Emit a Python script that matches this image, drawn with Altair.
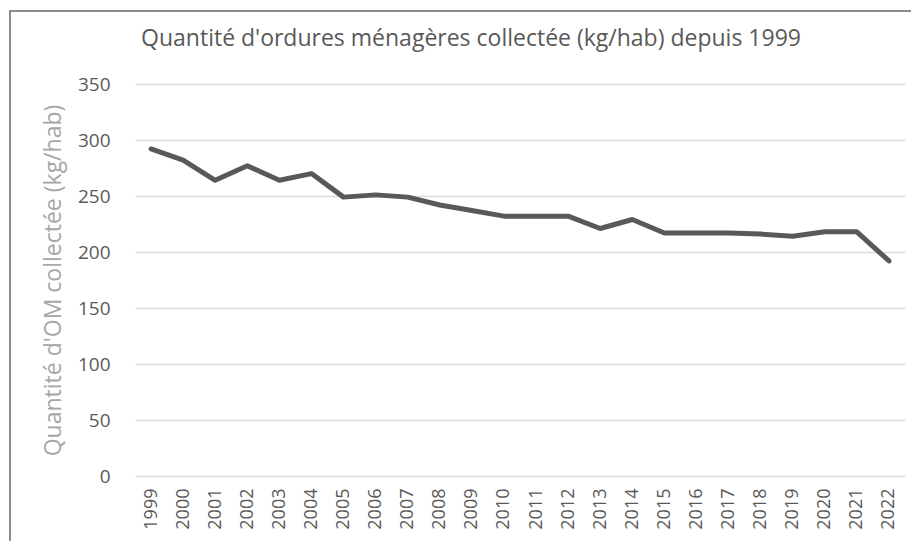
import altair as alt
import pandas as pd

years = [str(y) for y in range(1999, 2023)]
values = [292, 282, 264, 277, 264, 270, 249, 251, 249, 242, 237, 232,
          232, 232, 221, 229, 217, 217, 217, 216, 214, 218, 218, 192]
title_text = "Quantité d'ordures ménagères collectée (kg/hab) depuis 1999"
y_title = "Quantité d'OM collectée (kg/hab)"

df = pd.DataFrame({"Année": years, "Quantité": values})

FONT = "Open Sans"

line = alt.Chart(df).mark_line(
    color="#595959", strokeWidth=5, strokeCap="round", strokeJoin="round"
).encode(
    x=alt.X("Année:N", sort=years, title=None,
            scale=alt.Scale(paddingInner=0, paddingOuter=0.5),
            axis=alt.Axis(labelAngle=-90, labelPadding=12, ticks=False, domain=False,
                          grid=False, labelFontSize=18, labelColor="#595959",
                          labelFont=FONT)),
    y=alt.Y("Quantité:Q", title=y_title,
            scale=alt.Scale(domain=[0, 350], nice=False),
            axis=alt.Axis(values=[0, 50, 100, 150, 200, 250, 300, 350],
                          ticks=False, domain=False, labelPadding=25,
                          labelFontSize=19, labelColor="#595959", labelFont=FONT,
                          gridColor="#d9d9d9", gridWidth=1.5,
                          titleFontSize=23, titleColor="#a6a6a6", titleFont=FONT,
                          titleFontWeight="normal", titlePadding=12)),
)

one = alt.Data(values=[{"k": 1}])
top_rule = alt.Chart(one).mark_rule(color="#8c8c8c", strokeWidth=2).encode(
    x=alt.value(-126), x2=alt.value(800), y=alt.value(-73)
)
left_rule = alt.Chart(one).mark_rule(color="#8c8c8c", strokeWidth=2).encode(
    x=alt.value(-125), y=alt.value(-74), y2=alt.value(470)
)
title = alt.Chart(one).mark_text(
    text=title_text, font=FONT, fontSize=23, color="#595959",
    align="center", baseline="alphabetic"
).encode(x=alt.value(336), y=alt.value(-38))

chart = alt.layer(line, top_rule, left_rule, title).properties(
    width=770, height=392,
    autosize=alt.AutoSizeParams(type="none"),
    padding={"left": 127, "top": 76, "right": 6, "bottom": 65},
).configure_view(stroke=None)

chart.save("out.html", embed_options={"renderer": "svg", "actions": False})
